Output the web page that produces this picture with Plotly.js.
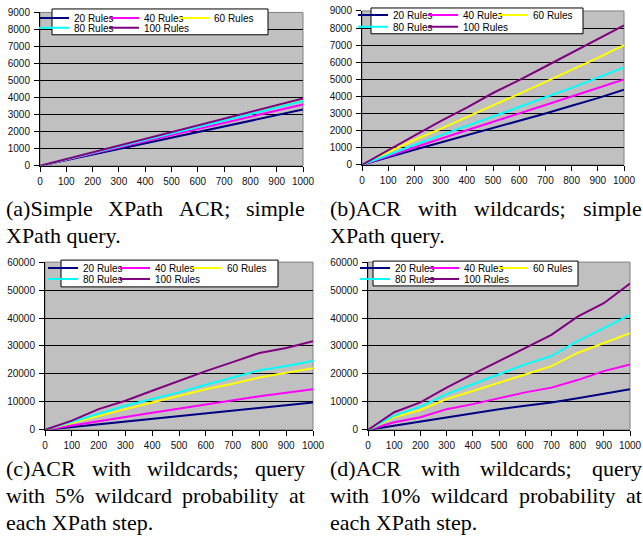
<!DOCTYPE html>
<html><head><meta charset="utf-8">
<script src="https://cdn.plot.ly/plotly-3.0.1.min.js"></script>
<style>html,body{margin:0;padding:0;background:#fff}</style>
</head><body><div id="chart" style="width:643px;height:543px"></div>
<script>
// ---- data ----
const X = [0,100,200,300,400,500,600,700,800,900,1000];
const SERIES = ['20 Rules','40 Rules','60 Rules','80 Rules','100 Rules'];
const COLORS = ['#000080','#FF00FF','#FFFF00','#00FFFF','#800080'];

// (a) Simple XPath ACR; simple XPath query
const A_R20  = [0,330,660,990,1320,1650,1980,2310,2640,2970,3300];
const A_R40  = [0,360,720,1080,1440,1800,2160,2520,2880,3240,3600];
const A_R60  = [0,385,770,1150,1540,1920,2310,2690,3080,3460,3850];
const A_R80  = [0,380,760,1140,1520,1900,2280,2660,3040,3420,3800];
const A_R100 = [0,395,790,1185,1580,1975,2370,2765,3160,3555,3950];
// (b) ACR with wildcards; simple XPath query
const B_R20  = [0,450,880,1300,1720,2150,2580,3000,3450,3900,4400];
const B_R40  = [0,520,1020,1520,2020,2500,3000,3500,4000,4500,5000];
const B_R60  = [0,740,1450,2100,2800,3480,4150,4850,5550,6250,7000];
const B_R80  = [0,600,1160,1720,2260,2800,3380,3950,4500,5100,5700];
const B_R100 = [0,870,1700,2550,3350,4200,4950,5750,6550,7350,8150];
// (c) 5% wildcard probability
const C_R20  = [0,1000,2000,2950,3900,4900,5900,6900,7900,8800,9800];
const C_R40  = [0,1600,3100,4600,6100,7600,9100,10500,12000,13300,14500];
const C_R60  = [0,2500,5100,7400,9800,12200,14500,16500,18700,20400,22000];
const C_R80  = [0,2900,5700,8600,11000,13400,16100,18700,21300,22800,24600];
const C_R100 = [0,3300,7400,10400,14000,17500,21000,24200,27500,29300,31700];
// (d) 10% wildcard probability
const D_R20  = [0,1500,3000,4500,5900,7400,8600,9800,11300,12900,14500];
const D_R40  = [0,2700,4500,7400,9200,11300,13400,15100,17800,21000,23400];
const D_R60  = [0,4500,7100,11000,13900,16900,19900,22800,27500,31100,34600];
const D_R80  = [0,5100,8300,12800,16300,19900,23400,26400,31700,36400,41100];
const D_R100 = [0,6300,9800,15100,19900,24600,29300,34000,40500,45300,52300];

const X_TICKS = [0,100,200,300,400,500,600,700,800,900,1000];

const CAPTIONS = {
  a: ['(a)Simple XPath ACR; simple', 'XPath query.'],
  b: ['(b)ACR with wildcards; simple', 'XPath query.'],
  c: ['(c)ACR with wildcards; query', 'with 5% wildcard probability at', 'each XPath step.'],
  d: ['(d)ACR with wildcards; query', 'with 10% wildcard probability at', 'each XPath step.']
};

// ---- layout helpers ----
const W = 643, H = 543;
const px = v => v / W;
const py = v => 1 - v / H;
const SANS = 'Liberation Sans, Arial, sans-serif';

function panelTraces(vals, xa, ya, lgA, lgB, pitch) {
  return vals.map((v, i) => ({
    x: X, y: v, xaxis: xa, yaxis: ya, type: 'scatter', mode: 'lines',
    name: SERIES[i], line: {color: COLORS[i], width: 2},
    legend: i < 3 ? lgA : lgB,
    legendwidth: (i === 2 || i === 4) ? 50 : pitch - 45,
    hoverinfo: 'skip'
  }));
}

const traces = [].concat(
  panelTraces([A_R20,A_R40,A_R60,A_R80,A_R100], 'x',  'y',  'legend',  'legend2', 70),
  panelTraces([B_R20,B_R40,B_R60,B_R80,B_R100], 'x2', 'y2', 'legend3', 'legend4', 70),
  panelTraces([C_R20,C_R40,C_R60,C_R80,C_R100], 'x3', 'y3', 'legend5', 'legend6', 72),
  panelTraces([D_R20,D_R40,D_R60,D_R80,D_R100], 'x4', 'y4', 'legend7', 'legend8', 69)
);

function xax(l, r, anchor) {
  return {domain: [px(l), px(r)], anchor, range: [0, 1000], tickvals: X_TICKS,
    ticktext: X_TICKS.map(String), ticklabeloverflow: 'allow',
    showgrid: false, zeroline: false, showline: true, linecolor: '#000', linewidth: 1,
    ticks: 'outside', ticklen: 5, tickcolor: '#000', ticklabelstandoff: 1,
    tickfont: {family: SANS, size: 10, color: '#111'}, fixedrange: true};
}
function yax(t, b, anchor, max, dt) {
  return {domain: [py(b), py(t)], anchor, range: [0, max], dtick: dt, tick0: 0, tickformat: 'd',
    showgrid: true, gridcolor: '#000', gridwidth: 1, zeroline: false,
    showline: true, linecolor: '#000', linewidth: 1, ticklabeloverflow: 'allow',
    ticks: 'outside', ticklen: 5, tickcolor: '#000', ticklabelstandoff: 2,
    tickfont: {family: SANS, size: 10, color: '#111'}, fixedrange: true};
}

function legendRow(xLeft, yCenter) {
  return {orientation: 'h', x: px(xLeft), y: py(yCenter), xanchor: 'left', yanchor: 'middle',
    bgcolor: 'rgba(0,0,0,0)', borderwidth: 0,
    font: {family: SANS, size: 10, color: '#000'}, itemclick: false, itemdoubleclick: false};
}

const shapes = [];
// plot area grey borders
[['x','y'],['x2','y2'],['x3','y3'],['x4','y4']].forEach(([xa, ya]) => {
  shapes.push({type: 'rect', xref: xa + ' domain', yref: ya + ' domain', x0: 0, x1: 1, y0: 0, y1: 1,
    line: {color: '#808080', width: 1}, fillcolor: 'rgba(0,0,0,0)', layer: 'below'});
});
// legend boxes
[[52,5,268,31],[371,4,583,30],[61,258,278,285],[373,259,578,284]].forEach(([l,t,r,b]) => {
  shapes.push({type: 'rect', xref: 'paper', yref: 'paper', x0: px(l), x1: px(r), y0: py(b), y1: py(t),
    line: {color: '#000', width: 1}, fillcolor: '#fff', layer: 'above'});
});

// captions (justified like the LaTeX source)
const annotations = [];
const ctx = document.createElement('canvas').getContext('2d');
const CAP_SIZE = 22;
ctx.font = CAP_SIZE + 'px "Liberation Serif"';
function capLine(text, left, right, yc, justify) {
  const base = {xref: 'paper', yref: 'paper', xanchor: 'left', yanchor: 'middle', showarrow: false,
    borderpad: 0, font: {family: 'Liberation Serif, Times New Roman, serif', size: CAP_SIZE, color: '#000'}};
  if (!justify) { annotations.push(Object.assign({}, base, {text, x: px(left), y: py(yc)})); return; }
  const words = text.split(' ');
  const widths = words.map(w => ctx.measureText(w).width);
  const total = widths.reduce((a, b) => a + b, 0);
  const gap = (right - left - total) / (words.length - 1);
  let x = left;
  words.forEach((w, i) => {
    annotations.push(Object.assign({}, base, {text: w, x: px(x), y: py(yc)}));
    x += widths[i] + gap;
  });
}
function caption(lines, left, right, y0) {
  lines.forEach((t, i) => capLine(t, left, right, y0 + i * 27, i < lines.length - 1));
}
caption(CAPTIONS.a, 5, 304, 206);
caption(CAPTIONS.b, 329, 641, 206);
caption(CAPTIONS.c, 5, 304, 468);
caption(CAPTIONS.d, 329, 641, 468);

const layout = {
  width: W, height: H, margin: {l: 0, r: 0, t: 0, b: 0},
  paper_bgcolor: '#fff', plot_bgcolor: '#C0C0C0', showlegend: true,
  xaxis:  xax(40, 303, 'y'),   yaxis:  yax(8.5, 163, 'x', 9000, 1000),
  xaxis2: xax(362, 624, 'y2'), yaxis2: yax(7, 162, 'x2', 9000, 1000),
  xaxis3: xax(45, 313, 'y3'),  yaxis3: yax(260, 429, 'x3', 60000, 10000),
  xaxis4: xax(368, 630, 'y4'), yaxis4: yax(260, 429, 'x4', 60000, 10000),
  legend:  legendRow(34, 14),  legend2: legendRow(34, 24),
  legend3: legendRow(353, 11), legend4: legendRow(353, 23),
  legend5: legendRow(43, 266), legend6: legendRow(43, 277),
  legend7: legendRow(355, 266), legend8: legendRow(355, 277),
  shapes, annotations
};

Plotly.newPlot('chart', traces, layout, {staticPlot: true, displayModeBar: false});
</script>
</body></html>
